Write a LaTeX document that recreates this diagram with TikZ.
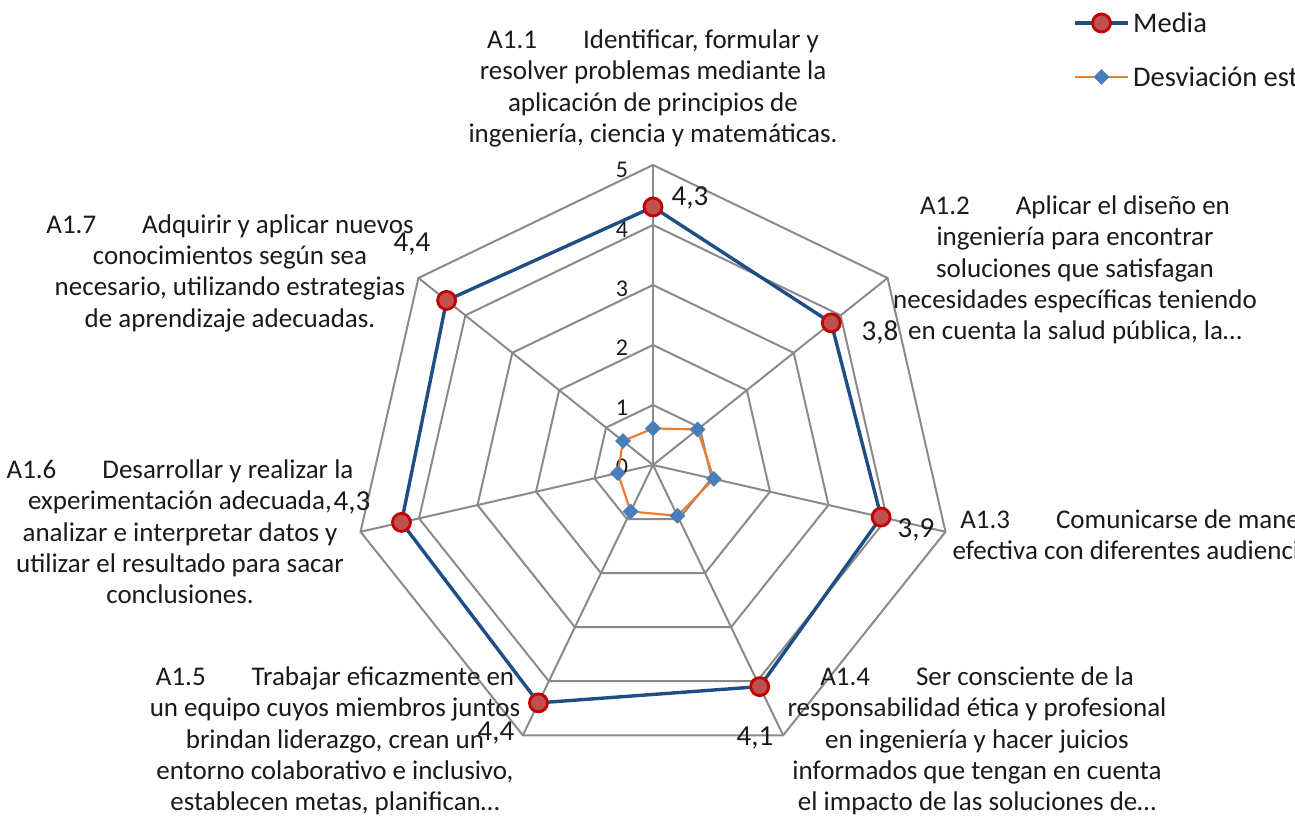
\documentclass[tikz,border=0pt]{standalone}
\usepackage{fontspec}
\setmainfont{Carlito}
\usetikzlibrary{shapes.geometric}
\definecolor{gridgray}{HTML}{8A8A8A}
\definecolor{mediablue}{HTML}{1F4E86}
\definecolor{markred}{HTML}{C0504D}
\definecolor{markborder}{HTML}{C00000}
\definecolor{devorange}{HTML}{ED7D31}
\definecolor{devblue}{HTML}{4A7EBB}
\definecolor{txt}{HTML}{1A1A1A}
\tikzset{
  grid/.style={draw=gridgray, line width=2bp},
  medialine/.style={draw=mediablue, line width=3.4bp, line join=round},
  devline/.style={draw=devorange, line width=2.2bp, line join=round},
  mediamark/.style={circle, fill=markred, draw=markborder, line width=2.8bp, minimum size=18bp, inner sep=0pt},
  devmark/.style={diamond, fill=devblue, draw=none, minimum width=16bp, minimum height=16bp, inner sep=0pt},
  cat/.style={align=center, text=txt, inner sep=0pt, font=\fontsize{27bp}{31.3bp}\selectfont},
  dlabel/.style={text=txt, inner sep=0pt, font=\fontsize{29bp}{32bp}\selectfont},
  tick/.style={text=txt, inner sep=0pt, font=\fontsize{24bp}{27bp}\selectfont},
  legtext/.style={text=txt, inner sep=0pt, anchor=west, font=\fontsize{28.5bp}{30bp}\selectfont},
}
\begin{document}
\begin{tikzpicture}[x=1bp, y=1bp]
\useasboundingbox (0,0) rectangle (1295,-821);
\clip (0,0) rectangle (1295,-821);
% grid
\begin{scope}[shift={(653,-465)}]
  \foreach \l in {1,...,5}{
    \draw[grid] (90:{60*\l}) \foreach \k in {1,...,6}{ -- ({90-\k*360/7}:{60*\l}) } -- cycle;
  }
  \foreach \k in {0,...,6}{
    \draw[grid] (0,0) -- ({90-\k*360/7}:300);
  }
  % tick labels
  \foreach \v/\yy in {0/-2,1/57,2/117,3/176,4/235,5/295}{
    \node[tick] (t\v) at (-31,\yy) {\v};
  }
  % media coordinates
  \foreach \v [count=\k from 0] in {4.3,3.8,3.9,4.1,4.4,4.3,4.4}{
    \coordinate (m\k) at ({90-\k*360/7}:{60*\v});
  }
  \foreach \v [count=\k from 0] in {0.61,0.95,1.04,0.94,0.86,0.60,0.64}{
    \coordinate (d\k) at ({90-\k*360/7}:{60*\v});
  }
  \draw[devline] (d0) -- (d1) -- (d2) -- (d3) -- (d4) -- (d5) -- (d6) -- cycle;
  \foreach \k in {0,...,6}{ \node[devmark] (dm\k) at (d\k) {}; }
  \draw[medialine] (m0) -- (m1) -- (m2) -- (m3) -- (m4) -- (m5) -- (m6) -- cycle;
  \foreach \k in {0,...,6}{ \node[mediamark] (mm\k) at (m\k) {}; }
\end{scope}
% data labels
\node[dlabel] (l0) at (690,-198) {4,3};
\node[dlabel] (l1) at (880,-332) {3,8};
\node[dlabel] (l2) at (916,-530) {3,9};
\node[dlabel] (l3) at (755,-738) {4,1};
\node[dlabel] (l4) at (496,-733) {4,4};
\node[dlabel] (l5) at (352,-503) {4,3};
\node[dlabel] (l6) at (412,-244) {4,4};
% category labels
\node[cat] (c1) at (653,-88.5) {A1.1\hspace{46bp}Identificar, formular y\\resolver problemas mediante la\\aplicación de principios de\\ingeniería, ciencia y matemáticas.};
\node[cat] (c2) at (1075,-270) {A1.2\hspace{46bp}Aplicar el diseño en\\ingeniería para encontrar\\soluciones que satisfagan\\necesidades específicas teniendo\\en cuenta la salud pública, la\ldots};
\node[cat] (c3) at (1141,-534.5) {A1.3\hspace{46bp}Comunicarse de manera\\efectiva con diferentes audiencias.};
\node[cat] (c4) at (977,-741) {A1.4\hspace{46bp}Ser consciente de la\\responsabilidad ética y profesional\\en ingeniería y hacer juicios\\informados que tengan en cuenta\\el impacto de las soluciones de\ldots};
\node[cat] (c5) at (335,-741) {A1.5\hspace{46bp}Trabajar eficazmente en\\un equipo cuyos miembros juntos\\brindan liderazgo, crean un\\entorno colaborativo e inclusivo,\\establecen metas, planifican\ldots};
\node[cat] (c6) at (180,-532) {A1.6\hspace{46bp}Desarrollar y realizar la\\experimentación adecuada,\\analizar e interpretar datos y\\utilizar el resultado para sacar\\conclusiones.};
\node[cat] (c7) at (230,-273) {A1.7\hspace{46bp}Adquirir y aplicar nuevos\\conocimientos según sea\\necesario, utilizando estrategias\\de aprendizaje adecuadas.};
% legend
\coordinate (la1) at (1075,-23);
\coordinate (lb1) at (1128,-23);
\draw[medialine] (la1) -- (lb1);
\node[mediamark] (lm1) at (1101.5,-23) {};
\node[legtext] (lt1) at (1133,-23) {Media};
\coordinate (la2) at (1075,-77);
\coordinate (lb2) at (1128,-77);
\draw[devline] (la2) -- (lb2);
\node[devmark] (lm2) at (1101.5,-77) {};
\node[legtext] (lt2) at (1133,-77) {Desviación estándar};
\end{tikzpicture}
\end{document}
